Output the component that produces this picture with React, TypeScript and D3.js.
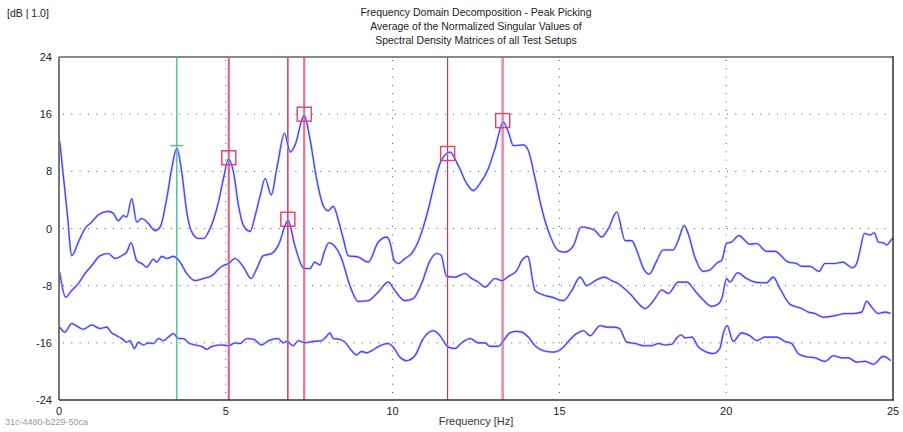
import React from "react";
import * as d3 from "d3";

// ---------- data ----------
const yTicks = [24, 16, 8, 0, -8, -16, -24];
const xTicks = [0, 5, 10, 15, 20, 25];

const titleLines = [
  "Frequency Domain Decomposition - Peak Picking",
  "Average of the Normalized Singular Values of",
  "Spectral Density Matrices of all Test Setups",
];

// curve 1 (first singular value)
const freqA = [0.02, 0.25, 0.38, 0.58, 0.78, 0.98, 1.18, 1.48, 1.63, 1.78, 1.93, 2.03, 2.18, 2.33, 2.48, 2.68, 2.88, 3.03, 3.23, 3.38, 3.53, 3.68, 3.83, 3.98, 4.18, 4.33, 4.53, 4.78, 4.93, 5.08, 5.23, 5.38, 5.53, 5.73, 5.88, 6.03, 6.18, 6.36, 6.53, 6.76, 6.93, 7.07, 7.35, 7.52, 7.72, 7.92, 8.07, 8.22, 8.4, 8.52, 8.67, 8.97, 9.27, 9.57, 9.82, 9.92, 10.05, 10.17, 10.37, 10.57, 10.82, 11.02, 11.22, 11.42, 11.72, 11.97, 12.22, 12.42, 12.62, 12.87, 13.07, 13.32, 13.47, 13.62, 13.92, 14.07, 14.27, 14.47, 14.72, 14.97, 15.17, 15.42, 15.65, 15.92, 16.07, 16.27, 16.47, 16.72, 16.97, 17.17, 17.32, 17.52, 17.69, 17.92, 18.11, 18.41, 18.56, 18.74, 18.86, 19.06, 19.31, 19.51, 19.76, 19.86, 20.01, 20.16, 20.38, 20.71, 20.91, 21.21, 21.46, 21.86, 22.11, 22.26, 22.51, 22.78, 22.96, 23.26, 23.51, 23.61, 23.78, 23.91, 24.01, 24.14, 24.31, 24.44, 24.56, 24.71, 24.81, 24.93, 25.0];
const dbA = [12.3, 2.0, -3.8, -1.9, 0, 0.9, 1.9, 2.4, 2.1, 1.1, 1.8, 1.6, 4.2, 0.9, 1.4, 0.7, -0.3, 0.2, 4.2, 8.4, 11.2, 7.9, 2.3, -0.5, -1.4, -1.4, 0, 3.7, 7.0, 9.7, 7.9, 3.2, 0.4, -0.4, 1.8, 4.6, 7.0, 4.7, 8.4, 13.3, 10.7, 11.6, 15.8, 12.6, 7.0, 3.2, 2.5, 3.1, 0.7, -1.4, -3.8, -4.0, -4.7, -1.9, -1.2, -1.9, -4.5, -4.9, -4.2, -3.5, -1.2, 1.8, 5.6, 9.1, 10.7, 8.8, 6.3, 5.3, 6.3, 8.4, 11.2, 14.9, 13.5, 11.6, 11.7, 10.9, 7.0, 2.8, -1.0, -3.1, -3.3, -2.4, 0.2, 0, -0.3, -1.2, 0, 2.3, -1.7, -1.7, -3.1, -5.6, -6.4, -4.5, -3.0, -3.0, -1.7, 0.4, -0.7, -4.0, -6.0, -5.8, -4.7, -4.5, -2.1, -1.9, -1.0, -2.2, -2.1, -3.2, -3.2, -4.7, -4.9, -5.3, -5.3, -6.0, -4.9, -4.9, -4.7, -5.0, -5.5, -4.9, -3.1, -0.7, -0.9, -0.6, -1.9, -2.0, -2.3, -1.7, -1.3];

// curve 2 (second singular value)
const freqB = [0.02, 0.2, 0.38, 0.58, 0.78, 0.98, 1.23, 1.48, 1.68, 1.88, 2.03, 2.16, 2.33, 2.48, 2.63, 2.83, 2.93, 3.08, 3.23, 3.43, 3.63, 3.83, 4.08, 4.33, 4.58, 4.88, 5.08, 5.28, 5.53, 5.76, 5.93, 6.12, 6.38, 6.57, 6.87, 7.07, 7.35, 7.52, 7.67, 7.82, 7.95, 8.09, 8.27, 8.47, 8.72, 8.97, 9.27, 9.42, 9.57, 9.87, 10.07, 10.37, 10.62, 10.87, 11.12, 11.32, 11.45, 11.62, 11.87, 12.17, 12.37, 12.57, 12.77, 13.07, 13.27, 13.47, 13.72, 13.87, 14.05, 14.27, 14.52, 14.77, 15.12, 15.37, 15.62, 15.82, 16.07, 16.35, 16.57, 16.72, 16.87, 17.17, 17.37, 17.57, 17.82, 18.07, 18.27, 18.56, 18.82, 19.06, 19.31, 19.56, 19.78, 19.88, 20.01, 20.11, 20.34, 20.61, 20.86, 21.21, 21.41, 21.61, 21.91, 22.26, 22.46, 22.66, 22.91, 23.26, 23.56, 23.81, 24.06, 24.21, 24.36, 24.56, 24.76, 24.93];
const dbB = [-6.1, -9.6, -8.7, -7.7, -6.3, -5.2, -3.8, -3.5, -4.2, -3.8, -3.3, -2.0, -4.5, -4.9, -5.4, -4.3, -4.7, -3.9, -4.2, -3.9, -4.7, -6.3, -7.3, -7.0, -6.6, -5.3, -4.9, -4.2, -5.4, -7.0, -5.6, -3.8, -3.5, -2.4, 1.1, -2.4, -5.6, -5.6, -4.7, -5.1, -3.3, -2.0, -2.5, -4.2, -8.0, -10.2, -10.1, -9.6, -8.9, -7.5, -8.7, -10.1, -9.8, -7.7, -4.5, -3.5, -3.7, -6.7, -6.8, -6.3, -7.0, -7.5, -8.2, -7.0, -7.3, -6.7, -5.9, -4.5, -3.9, -8.7, -9.3, -9.6, -10.1, -8.7, -6.8, -8.0, -7.3, -6.8, -7.3, -7.6, -8.1, -9.4, -10.5, -11.2, -10.1, -8.6, -9.1, -7.5, -7.5, -8.7, -10.0, -10.9, -10.5, -9.6, -7.0, -7.5, -6.2, -7.0, -7.5, -7.6, -6.8, -8.4, -10.6, -11.2, -11.7, -11.9, -12.4, -12.2, -11.9, -11.9, -11.7, -10.2, -11.0, -11.9, -11.7, -11.9];

// curve 3 (third singular value)
const freqC = [0.02, 0.18, 0.38, 0.58, 0.73, 0.98, 1.23, 1.43, 1.58, 1.73, 1.88, 2.03, 2.13, 2.26, 2.38, 2.53, 2.68, 2.83, 2.98, 3.13, 3.28, 3.43, 3.58, 3.73, 3.88, 4.08, 4.28, 4.43, 4.58, 4.88, 5.08, 5.28, 5.43, 5.63, 5.83, 6.08, 6.28, 6.57, 6.72, 6.83, 7.02, 7.17, 7.37, 7.62, 7.87, 8.0, 8.12, 8.22, 8.4, 8.57, 8.72, 8.92, 9.07, 9.22, 9.37, 9.62, 9.87, 10.02, 10.22, 10.42, 10.67, 10.92, 11.22, 11.42, 11.67, 11.87, 12.07, 12.32, 12.57, 12.77, 12.92, 13.17, 13.32, 13.52, 13.72, 13.87, 14.07, 14.27, 14.52, 14.82, 15.12, 15.27, 15.52, 15.72, 15.92, 16.22, 16.42, 16.62, 16.8, 17.02, 17.27, 17.52, 17.77, 17.97, 18.17, 18.37, 18.52, 18.65, 18.77, 18.97, 19.17, 19.37, 19.61, 19.81, 19.91, 20.03, 20.21, 20.46, 20.71, 20.91, 21.16, 21.51, 21.76, 21.96, 22.16, 22.36, 22.66, 22.96, 23.21, 23.46, 23.66, 23.91, 24.16, 24.41, 24.71, 24.93];
const dbC = [-13.8, -14.5, -13.3, -13.8, -14.1, -13.5, -14.0, -13.8, -14.6, -15.0, -15.4, -15.9, -15.7, -16.8, -15.9, -16.3, -16.0, -16.1, -15.4, -15.7, -15.2, -14.7, -15.4, -15.4, -16.0, -16.3, -16.5, -16.9, -16.5, -16.3, -16.4, -16.0, -16.1, -15.4, -15.5, -16.3, -15.7, -15.4, -16.0, -15.8, -16.4, -15.7, -16.0, -15.8, -15.7, -15.2, -14.6, -15.4, -15.5, -15.9, -16.8, -17.7, -17.2, -17.4, -17.1, -16.4, -16.1, -16.6, -18.0, -18.5, -17.8, -15.4, -14.3, -15.0, -16.6, -16.8, -16.0, -15.4, -16.0, -16.0, -16.5, -16.5, -15.7, -14.6, -14.4, -14.5, -15.2, -16.4, -17.1, -17.3, -16.6, -15.8, -14.7, -14.3, -15.0, -13.6, -13.8, -13.8, -14.0, -15.9, -16.1, -16.4, -16.4, -16.1, -16.3, -16.2, -15.3, -14.9, -15.3, -15.2, -16.6, -17.2, -17.5, -16.8, -14.7, -13.6, -15.8, -14.6, -15.0, -15.7, -15.2, -15.2, -15.8, -16.1, -17.5, -17.9, -18.1, -18.6, -17.8, -18.1, -18.1, -18.7, -18.6, -19.0, -17.9, -18.5];

// picked peaks
const greenPickFreq = 3.53;
const greenPickDb = 11.6;
const pickFreqs = [5.09, 6.86, 7.35, 11.65, 13.3];
const pickDbs = [9.9, 1.3, 16.0, 10.5, 15.1];

const yUnitLabel = "[dB | 1.0]";
const xAxisLabel = "Frequency [Hz]";
const footerId = "31c-4480-b229-50ca";

// ---------- styles ----------
const FONT = "'Liberation Sans', Arial, sans-serif";
const pickStyles = [
  { color: "#e8587f", width: 2 },
  { color: "#e0335f", width: 1.5 },
  { color: "#ec7094", width: 2.2 },
  { color: "#c41038", width: 1 },
  { color: "#f190aa", width: 2.8 },
];

export default function App() {
  const W = 903;
  const H = 432;
  const x = d3.scaleLinear().domain([0, 25]).range([59, 893]);
  const y = d3.scaleLinear().domain([-24, 24]).range([400, 57]);

  const line = d3
    .line<[number, number]>()
    .x((d) => x(d[0]))
    .y((d) => y(d[1]))
    .curve(d3.curveMonotoneX);

  const series = [
    d3.zip(freqA, dbA) as [number, number][],
    d3.zip(freqB, dbB) as [number, number][],
    d3.zip(freqC, dbC) as [number, number][],
  ];

  const [x0, x1] = x.range();
  const [yb, yt] = y.range();
  const sq = 14;

  return (
    <svg
      width={W}
      height={H}
      viewBox={`0 0 ${W} ${H}`}
      style={{ position: "absolute", left: 0, top: 0, background: "#ffffff" }}
      fontFamily={FONT}
    >
      <rect x={0} y={0} width={W} height={H} fill="#ffffff" />

      {/* titles */}
      <text x={7} y={17} fontSize={10.5} fill="#222">{yUnitLabel}</text>
      {titleLines.map((t, i) => (
        <text key={i} x={476} y={16 + i * 14} fontSize={10.5} textAnchor="middle" fill="#222">
          {t}
        </text>
      ))}

      {/* grid */}
      {yTicks
        .filter((t) => t !== 24 && t !== -24)
        .map((t) => (
          <line key={"gy" + t} x1={x0 + 4} x2={x1} y1={y(t)} y2={y(t)} stroke="#555" strokeWidth={1} strokeDasharray="1 7.3" />
        ))}
      {xTicks
        .filter((t) => t !== 0 && t !== 25)
        .map((t) => (
          <line key={"gx" + t} x1={x(t)} x2={x(t)} y1={yt + 3} y2={yb} stroke="#555" strokeWidth={1} strokeDasharray="1 7.3" />
        ))}

      {/* pick lines */}
      <line x1={x(greenPickFreq)} x2={x(greenPickFreq)} y1={yt} y2={yb} stroke="#5ec4a0" strokeWidth={1.6} />
      {pickFreqs.map((f, i) => (
        <line key={"pl" + i} x1={x(f)} x2={x(f)} y1={yt} y2={yb} stroke={pickStyles[i].color} strokeWidth={pickStyles[i].width} />
      ))}

      {/* curves */}
      {series.map((s, i) => (
        <g key={"s" + i}>
          <path d={line(s) || ""} fill="none" stroke="#b4b4ff" strokeWidth={2.2} strokeLinejoin="round" />
          <path d={line(s) || ""} fill="none" stroke="#4040ff" strokeWidth={1.1} strokeLinejoin="round" />
        </g>
      ))}

      {/* markers */}
      <line
        x1={x(greenPickFreq) - 6.5}
        x2={x(greenPickFreq) + 6.5}
        y1={y(greenPickDb)}
        y2={y(greenPickDb)}
        stroke="#5ec4a0"
        strokeWidth={1.6}
      />
      {pickFreqs.map((f, i) => (
        <rect
          key={"sq" + i}
          x={x(f) - sq / 2}
          y={y(pickDbs[i]) - sq / 2}
          width={sq}
          height={sq}
          fill="none"
          stroke="#e0406c"
          strokeWidth={1.4}
        />
      ))}

      {/* frame */}
      <line x1={x0} x2={x1} y1={yt} y2={yt} stroke="#888" strokeWidth={2} />
      <line x1={x0} x2={x0} y1={yt} y2={yb} stroke="#777" strokeWidth={2} />
      <line x1={x0} x2={x1 + 1} y1={yb} y2={yb} stroke="#333" strokeWidth={1.5} />
      <line x1={x1} x2={x1} y1={yt - 1} y2={yb} stroke="#333" strokeWidth={1.5} />

      {/* y tick labels */}
      {yTicks.map((t) => (
        <text key={"yl" + t} x={52} y={y(t) + 4} fontSize={11} textAnchor="end" fill="#222">
          {t}
        </text>
      ))}
      {/* x tick labels */}
      {xTicks.map((t) => (
        <text key={"xl" + t} x={x(t)} y={415} fontSize={11} textAnchor="middle" fill="#222">
          {t}
        </text>
      ))}
      <text x={476} y={425} fontSize={11} textAnchor="middle" fill="#333">{xAxisLabel}</text>
      <text x={5} y={425} fontSize={9} fill="#999">{footerId}</text>
    </svg>
  );
}
